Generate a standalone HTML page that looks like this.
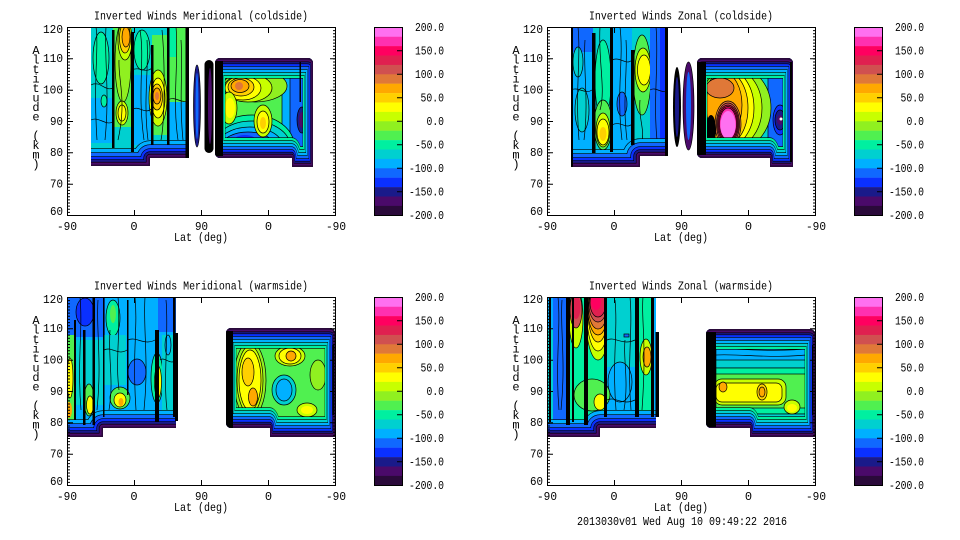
<!DOCTYPE html>
<html><head><meta charset="utf-8"><style>
html,body{margin:0;padding:0;background:#fff;}
svg{display:block;}
text{font-family:"Liberation Mono",monospace;font-size:12px;fill:#000;}
.k{stroke:#000;stroke-width:.7;}
.w{fill:none;stroke:#000;stroke-width:.7;}
</style></head><body>
<svg width="960" height="540" viewBox="0 0 960 540" xmlns="http://www.w3.org/2000/svg">
<defs>
<path id="p1" d="M221,58H307Q313,58 313,64V167H292V158H221Q215,158 215,152V64Q215,58 221,58Z"/>
<path id="p2" d="M703,58H787Q793,58 793,64V167H770V158H703Q697,158 697,152V64Q697,58 703,58Z"/>
<path id="p3" d="M232,328H329Q335,328 335,334V437H270V428H232Q226,428 226,422V334Q226,328 232,328Z"/>
<path id="p4" d="M712,329H809Q815,329 815,335V437H750V428H712Q706,428 706,422V335Q706,329 712,329Z"/>
<path id="q1" d="M178,58H350Q362,58 362,64V167H320V158H178Q166,158 166,152V64Q166,58 178,58Z"/>
<path id="q2" d="M661,58H829Q841,58 841,64V167H795V158H661Q649,158 649,152V64Q649,58 661,58Z"/>
<path id="q3" d="M183.5,328H377.5Q389.5,328 389.5,334V437H259.5V428H183.5Q171.5,428 171.5,422V334Q171.5,328 183.5,328Z"/>
<path id="q4" d="M663.5,329H857.5Q869.5,329 869.5,335V437H739.5V428H663.5Q651.5,428 651.5,422V335Q651.5,329 663.5,329Z"/>
<clipPath id="c1"><use href="#p1"/></clipPath>
<clipPath id="c2"><use href="#p2"/></clipPath>
<clipPath id="c3"><use href="#p3"/></clipPath>
<clipPath id="c4"><use href="#p4"/></clipPath>
<clipPath id="a1"><path d="M91,27H189V158H150V166H91Z"/></clipPath>
<clipPath id="a2"><path d="M571,27H668V156H640V167H571Z"/></clipPath>
<clipPath id="a3"><path d="M67,297H176V428H103V437H67Z"/></clipPath>
<clipPath id="a4"><path d="M547,297H656V428H600V437H547Z"/></clipPath>
</defs>

<!-- ================= TL DATA ================= -->
<g clip-path="url(#a1)">
<rect x="91" y="27" width="98" height="140" fill="#00d0d0"/>
<ellipse cx="101" cy="58" rx="8" ry="26" fill="#00f0a0" class="k"/>
<rect x="91" y="98" width="22" height="45" fill="#00b0ff"/>
<ellipse cx="104" cy="101" rx="3" ry="6" fill="#00f0a0" class="k"/>
<rect x="113" y="27" width="19" height="100" fill="#50f050"/>
<ellipse cx="123" cy="62" rx="8" ry="40" fill="#90f020" class="k"/>
<ellipse cx="125" cy="40" rx="7" ry="20" fill="#c8ff00" class="k"/>
<ellipse cx="125" cy="38" rx="5.5" ry="15" fill="#ffd000" class="k"/>
<ellipse cx="126" cy="37" rx="4" ry="10" fill="#ffa800" class="k"/>
<ellipse cx="122" cy="113" rx="6" ry="12" fill="#c8ff00" class="k"/>
<ellipse cx="122" cy="113" rx="4" ry="8" fill="#ffff00" class="k"/>
<rect x="132" y="75" width="20" height="70" fill="#00b0ff"/>
<ellipse cx="142" cy="50" rx="8" ry="20" fill="#00f0a0" class="k"/>
<rect x="152" y="35" width="16" height="100" fill="#50f050"/>
<ellipse cx="158" cy="98" rx="9" ry="28" fill="#c8ff00" class="k"/>
<ellipse cx="158" cy="98" rx="7" ry="20" fill="#ffff00" class="k"/>
<ellipse cx="157" cy="97" rx="5.5" ry="13" fill="#ffd000" class="k"/>
<ellipse cx="157" cy="96" rx="4" ry="8" fill="#ffa800" class="k"/>
<ellipse cx="157" cy="96" rx="2" ry="4" fill="#e07838"/>
<rect x="168" y="27" width="21" height="75" fill="#50f050"/>
<rect x="168" y="27" width="8" height="30" fill="#00f0a0"/>
<rect x="168" y="102" width="21" height="40" fill="#00b0ff"/>
<path class="w" d="M96,27C99,50 93,80 97,140M106,27C104,60 110,90 105,140M119,60C118,80 127,100 118,140M140,30C145,60 137,90 144,140M147,40C149,70 143,100 148,140M162,30C165,60 165,120 161,140M176,27C179,60 172,100 178,140M181,40C183,70 179,100 183,140M91,85C100,80 105,92 113,88M132,70C140,66 145,74 152,68M168,100C175,95 182,105 189,100M91,120C98,116 106,126 113,122M132,110C138,104 146,116 152,108"/>
<g fill="none" stroke-linejoin="round">
<path d="M80,166H150V158H200" stroke="#000" stroke-width="35.2"/>
<path d="M80,166H150V158H200" stroke="#00b0ff" stroke-width="34"/>
<path d="M80,166H150V158H200" stroke="#000" stroke-width="27.2"/>
<path d="M80,166H150V158H200" stroke="#1068ff" stroke-width="26"/>
<path d="M80,166H150V158H200" stroke="#000" stroke-width="19.2"/>
<path d="M80,166H150V158H200" stroke="#0a30ff" stroke-width="18"/>
<path d="M80,166H150V158H200" stroke="#000" stroke-width="13.2"/>
<path d="M80,166H150V158H200" stroke="#1a1a8a" stroke-width="12"/>
<path d="M80,166H150V158H200" stroke="#000" stroke-width="8.2"/>
<path d="M80,166H150V158H200" stroke="#4a0a6a" stroke-width="7"/>
<path d="M80,166H150V158H200" stroke="#2a0a3a" stroke-width="3"/>
</g>
<g fill="#000">
<rect x="112" y="30" width="2.5" height="118"/>
<rect x="131" y="32" width="3" height="120"/>
<rect x="151" y="45" width="2.5" height="100"/>
<rect x="167" y="27" width="2.5" height="118"/>
<rect x="185.5" y="27" width="3.5" height="131"/>
</g>
</g>
<ellipse cx="197" cy="106" rx="3.5" ry="41" fill="#1a1a8a" class="k"/>
<ellipse cx="197" cy="106" rx="1.5" ry="33" fill="#1068ff"/>
<rect x="204.5" y="60" width="9" height="93" rx="4.5" fill="#000"/>
<ellipse cx="210" cy="106" rx="2" ry="38" fill="#4a0a6a"/>

<g clip-path="url(#c1)">
<rect x="215" y="58" width="98" height="109" fill="#50f050"/>
<rect x="290" y="58" width="23" height="109" fill="#1068ff"/>
<rect x="282" y="75" width="8" height="70" fill="#00b0ff" class="k"/>
<ellipse cx="302" cy="120" rx="5" ry="13" fill="#1a1a8a" class="k"/>
<ellipse cx="302" cy="120" rx="3" ry="8" fill="#4a0a6a"/>
<ellipse cx="252" cy="145" rx="42" ry="30" fill="#00f0a0" class="k"/>
<ellipse cx="252" cy="146" rx="38" ry="25" fill="#00d0d0" class="k"/>
<ellipse cx="250" cy="147" rx="33" ry="20" fill="#00b0ff" class="k"/>
<ellipse cx="248" cy="146" rx="26" ry="14" fill="#1068ff" class="k"/>
<ellipse cx="245" cy="142" rx="12" ry="7" fill="#0a30ff"/>
<ellipse cx="255" cy="86" rx="32" ry="16" fill="#90f020" class="k"/>
<ellipse cx="248" cy="88" rx="24" ry="14" fill="#c8ff00" class="k"/>
<ellipse cx="243" cy="88" rx="18" ry="12" fill="#ffff00" class="k"/>
<ellipse cx="241" cy="87" rx="13" ry="9" fill="#ffd000" class="k"/>
<ellipse cx="240" cy="86" rx="9" ry="6.5" fill="#ffa800" class="k"/>
<ellipse cx="239" cy="86" rx="4" ry="4" fill="#e07838"/>
<ellipse cx="229" cy="108" rx="8" ry="16" fill="#c8ff00" class="k"/>
<ellipse cx="230" cy="108" rx="5" ry="10" fill="#ffff00"/>
<ellipse cx="263" cy="121" rx="9" ry="16" fill="#c8ff00" class="k"/>
<ellipse cx="263" cy="122" rx="6" ry="11" fill="#ffff00" class="k"/>
<ellipse cx="263" cy="123" rx="3" ry="6" fill="#ffd000"/>
<g fill="none" stroke-linejoin="round" transform="matrix(0.5,0,0,1,132,0)">
<use href="#q1" stroke="#000" stroke-width="41.2"/>
<use href="#q1" stroke="#00f0a0" stroke-width="40"/>
<use href="#q1" stroke="#000" stroke-width="35.2"/>
<use href="#q1" stroke="#00d0d0" stroke-width="34"/>
<use href="#q1" stroke="#000" stroke-width="29.2"/>
<use href="#q1" stroke="#00b0ff" stroke-width="28"/>
<use href="#q1" stroke="#000" stroke-width="23.2"/>
<use href="#q1" stroke="#1068ff" stroke-width="22"/>
<use href="#q1" stroke="#000" stroke-width="17.2"/>
<use href="#q1" stroke="#0a30ff" stroke-width="16"/>
<use href="#q1" stroke="#000" stroke-width="12.2"/>
<use href="#q1" stroke="#1a1a8a" stroke-width="11"/>
<use href="#q1" stroke="#000" stroke-width="8.2"/>
<use href="#q1" stroke="#4a0a6a" stroke-width="7"/>
<use href="#q1" stroke="#2a0a3a" stroke-width="3.5"/>
</g>
<rect x="215" y="61" width="8" height="95" fill="#000"/>
<rect x="299.5" y="62" width="1.5" height="40" fill="#000"/>
</g>

<!-- ================= TR DATA ================= -->
<g clip-path="url(#a2)">
<rect x="571" y="27" width="97" height="140" fill="#00b0ff"/>
<rect x="571" y="27" width="22" height="25" fill="#1068ff"/>
<ellipse cx="582" cy="110" rx="7" ry="22" fill="#00d0d0" class="k"/>
<ellipse cx="578" cy="62" rx="5" ry="15" fill="#00d0d0" class="k"/>
<rect x="593" y="27" width="19" height="125" fill="#00d0d0"/>
<ellipse cx="603" cy="80" rx="8" ry="40" fill="#00f0a0" class="k"/>
<ellipse cx="603" cy="125" rx="9" ry="25" fill="#50f050" class="k"/>
<ellipse cx="603" cy="130" rx="7" ry="17" fill="#c8ff00" class="k"/>
<ellipse cx="603" cy="132" rx="6" ry="13" fill="#ffff00" class="k"/>
<ellipse cx="603" cy="134" rx="3.5" ry="7" fill="#ffd000"/>
<ellipse cx="622" cy="104" rx="5" ry="12" fill="#1068ff" class="k"/>
<rect x="632" y="27" width="18" height="115" fill="#00d0d0"/>
<ellipse cx="642" cy="75" rx="9" ry="40" fill="#50f050" class="k"/>
<ellipse cx="643" cy="70" rx="8" ry="22" fill="#c8ff00" class="k"/>
<ellipse cx="644" cy="70" rx="6.5" ry="15" fill="#ffff00" class="k"/>
<rect x="650" y="27" width="18" height="130" fill="#1068ff"/>
<rect x="660" y="27" width="6" height="130" fill="#0a30ff"/>
<path class="w" d="M578,27C581,60 575,90 579,140M585,40C583,70 589,100 584,140M600,27C598,60 606,90 600,110M620,27C624,60 616,90 622,140M626,40C628,70 622,100 627,140M640,100C638,120 646,130 641,145M656,27C659,60 653,100 657,140M571,90C578,86 585,95 592,90M612,60C620,56 626,66 632,60M650,90C656,86 662,95 668,90M612,125C620,120 626,130 632,124"/>
<g fill="none" stroke-linejoin="round">
<path d="M560,167H640V156H680" stroke="#000" stroke-width="35.2"/>
<path d="M560,167H640V156H680" stroke="#00b0ff" stroke-width="34"/>
<path d="M560,167H640V156H680" stroke="#000" stroke-width="27.2"/>
<path d="M560,167H640V156H680" stroke="#1068ff" stroke-width="26"/>
<path d="M560,167H640V156H680" stroke="#000" stroke-width="19.2"/>
<path d="M560,167H640V156H680" stroke="#0a30ff" stroke-width="18"/>
<path d="M560,167H640V156H680" stroke="#000" stroke-width="13.2"/>
<path d="M560,167H640V156H680" stroke="#1a1a8a" stroke-width="12"/>
<path d="M560,167H640V156H680" stroke="#000" stroke-width="8.2"/>
<path d="M560,167H640V156H680" stroke="#4a0a6a" stroke-width="7"/>
<path d="M560,167H640V156H680" stroke="#2a0a3a" stroke-width="3"/>
</g>
<g fill="#000">
<rect x="571" y="27" width="2" height="140"/>
<rect x="592" y="33" width="3.5" height="120"/>
<rect x="610" y="27" width="3" height="125"/>
<rect x="631" y="50" width="3.5" height="95"/>
<rect x="665" y="27" width="3" height="130"/>
</g>
</g>
<ellipse cx="677" cy="107" rx="4" ry="40" fill="#000"/>
<ellipse cx="677" cy="107" rx="2" ry="30" fill="#1a1a8a"/>
<ellipse cx="688.5" cy="106" rx="5.5" ry="44" fill="#4a0a6a" class="k"/>
<ellipse cx="688.5" cy="106" rx="2.5" ry="34" fill="#1068ff"/>

<g clip-path="url(#c2)">
<rect x="697" y="58" width="96" height="109" fill="#50f050"/>
<rect x="765" y="58" width="28" height="109" fill="#1068ff"/>
<rect x="760" y="70" width="8" height="75" fill="#00d0d0" class="k"/>
<ellipse cx="780" cy="120" rx="7" ry="15" fill="#0a30ff" class="k"/>
<ellipse cx="780" cy="120" rx="5" ry="10" fill="#1a1a8a" class="k"/>
<ellipse cx="780" cy="120" rx="3" ry="5" fill="#4a0a6a"/>
<circle cx="781" cy="119" r="1.5" fill="#fff"/>
<ellipse cx="735" cy="108" rx="36" ry="42" fill="#90f020" class="k"/>
<ellipse cx="732" cy="108" rx="30" ry="40" fill="#c8ff00" class="k"/>
<ellipse cx="729" cy="108" rx="25" ry="38" fill="#ffff00" class="k"/>
<ellipse cx="727" cy="108" rx="21" ry="36" fill="#ffd000" class="k"/>
<ellipse cx="724" cy="105" rx="18" ry="32" fill="#ffa800" class="k"/>
<ellipse cx="720" cy="88" rx="14" ry="10" fill="#e07838" class="k"/>
<ellipse cx="728" cy="124" rx="13" ry="23" fill="#e07838" class="k"/>
<ellipse cx="728" cy="124" rx="11.5" ry="21" fill="#d05050" class="k"/>
<ellipse cx="728" cy="124" rx="10.5" ry="19" fill="#e02050" class="k"/>
<ellipse cx="728" cy="124" rx="9.5" ry="17.5" fill="#ff0060" class="k"/>
<ellipse cx="728" cy="124" rx="8.5" ry="16" fill="#ff30b0" class="k"/>
<ellipse cx="728" cy="125" rx="7.5" ry="14" fill="#ff70f0"/>
<ellipse cx="711" cy="130" rx="5" ry="15" fill="#000"/>
<g fill="none" stroke-linejoin="round" transform="matrix(0.5,0,0,1,372.5,0)">
<use href="#q2" stroke="#000" stroke-width="41.2"/>
<use href="#q2" stroke="#00f0a0" stroke-width="40"/>
<use href="#q2" stroke="#000" stroke-width="35.2"/>
<use href="#q2" stroke="#00d0d0" stroke-width="34"/>
<use href="#q2" stroke="#000" stroke-width="29.2"/>
<use href="#q2" stroke="#00b0ff" stroke-width="28"/>
<use href="#q2" stroke="#000" stroke-width="23.2"/>
<use href="#q2" stroke="#1068ff" stroke-width="22"/>
<use href="#q2" stroke="#000" stroke-width="17.2"/>
<use href="#q2" stroke="#0a30ff" stroke-width="16"/>
<use href="#q2" stroke="#000" stroke-width="12.2"/>
<use href="#q2" stroke="#1a1a8a" stroke-width="11"/>
<use href="#q2" stroke="#000" stroke-width="8.2"/>
<use href="#q2" stroke="#4a0a6a" stroke-width="7"/>
<use href="#q2" stroke="#2a0a3a" stroke-width="3.5"/>
</g>
<rect x="697" y="62" width="9" height="93" fill="#000"/>
<rect x="790" y="62" width="2" height="100" fill="#000"/>
</g>

<!-- ================= BL DATA ================= -->
<g clip-path="url(#a3)">
<rect x="67" y="297" width="109" height="140" fill="#00b0ff"/>
<rect x="67" y="297" width="38" height="40" fill="#1068ff"/>
<ellipse cx="85" cy="312" rx="9" ry="14" fill="#0a30ff" class="k"/>
<rect x="76" y="340" width="27" height="65" fill="#00d0d0"/>
<rect x="67" y="335" width="8" height="90" fill="#50f050"/>
<ellipse cx="70" cy="378" rx="3" ry="20" fill="#ffff00" class="k"/>
<ellipse cx="69" cy="410" rx="3" ry="8" fill="#ffa800"/>
<ellipse cx="89" cy="400" rx="5" ry="16" fill="#50f050" class="k"/>
<ellipse cx="90" cy="405" rx="3.5" ry="9" fill="#ffff00" class="k"/>
<ellipse cx="113" cy="318" rx="7" ry="18" fill="#00f0a0" class="k"/>
<ellipse cx="113" cy="314" rx="3" ry="9" fill="#50f050"/>
<rect x="104" y="335" width="22" height="50" fill="#00d0d0"/>
<ellipse cx="137" cy="372" rx="9" ry="13" fill="#1068ff" class="k"/>
<ellipse cx="120" cy="398" rx="10" ry="11" fill="#50f050" class="k"/>
<ellipse cx="120" cy="400" rx="6" ry="7" fill="#ffff00" class="k"/>
<ellipse cx="121" cy="402" rx="2.5" ry="4" fill="#ffa800"/>
<ellipse cx="157" cy="378" rx="6" ry="25" fill="#00f0a0" class="k"/>
<ellipse cx="158" cy="382" rx="3.5" ry="16" fill="#ffff00" class="k"/>
<rect x="162" y="335" width="14" height="90" fill="#00d0d0"/>
<rect x="158" y="297" width="18" height="35" fill="#1068ff"/>
<ellipse cx="168" cy="345" rx="3" ry="10" fill="#00b0ff" class="k"/>
<path class="w" d="M80,297C83,330 77,360 81,410M98,300C96,330 102,360 97,410M110,330C108,360 114,380 109,410M118,297C121,330 115,360 119,390M135,297C138,330 132,350 136,410M145,297C143,330 149,360 144,410M166,300C169,330 163,380 167,410M104,350C112,346 118,356 127,350M128,340C136,336 144,346 155,340M160,360C165,356 170,366 176,360"/>
<g fill="none" stroke-linejoin="round">
<path d="M60,437H103V428H185" stroke="#000" stroke-width="35.2"/>
<path d="M60,437H103V428H185" stroke="#00b0ff" stroke-width="34"/>
<path d="M60,437H103V428H185" stroke="#000" stroke-width="27.2"/>
<path d="M60,437H103V428H185" stroke="#1068ff" stroke-width="26"/>
<path d="M60,437H103V428H185" stroke="#000" stroke-width="19.2"/>
<path d="M60,437H103V428H185" stroke="#0a30ff" stroke-width="18"/>
<path d="M60,437H103V428H185" stroke="#000" stroke-width="13.2"/>
<path d="M60,437H103V428H185" stroke="#1a1a8a" stroke-width="12"/>
<path d="M60,437H103V428H185" stroke="#000" stroke-width="8.2"/>
<path d="M60,437H103V428H185" stroke="#4a0a6a" stroke-width="7"/>
<path d="M60,437H103V428H185" stroke="#2a0a3a" stroke-width="3"/>
</g>
<g fill="#000">
<rect x="74" y="320" width="2" height="100"/>
<rect x="83" y="330" width="2.5" height="95"/>
<rect x="92.5" y="297" width="2.5" height="128"/>
<rect x="103" y="297" width="1.5" height="120"/>
<rect x="127" y="300" width="1.5" height="95"/>
<rect x="155" y="330" width="4" height="92"/>
<rect x="173" y="297" width="2.5" height="120"/>
</g>
</g>
<rect x="175" y="333" width="3" height="88" fill="#000"/>

<g clip-path="url(#c3)">
<rect x="226" y="328" width="109" height="109" fill="#50f050"/>
<ellipse cx="250" cy="380" rx="16" ry="38" fill="#90f020" class="k"/>
<ellipse cx="250" cy="380" rx="13" ry="34" fill="#c8ff00" class="k"/>
<ellipse cx="250" cy="380" rx="11" ry="30" fill="#ffff00" class="k"/>
<ellipse cx="248" cy="372" rx="6" ry="14" fill="#ffd000" class="k"/>
<ellipse cx="253" cy="397" rx="4.5" ry="9" fill="#ffa800" class="k"/>
<ellipse cx="290" cy="356" rx="15" ry="10" fill="#c8ff00" class="k"/>
<ellipse cx="290" cy="356" rx="11" ry="8" fill="#ffff00" class="k"/>
<ellipse cx="291" cy="356" rx="5" ry="5" fill="#ffa800" class="k"/>
<ellipse cx="284" cy="390" rx="12" ry="15" fill="#00d0d0" class="k"/>
<ellipse cx="284" cy="390" rx="8" ry="11" fill="#00b0ff" class="k"/>
<ellipse cx="307" cy="410" rx="10" ry="7" fill="#c8ff00" class="k"/>
<ellipse cx="307" cy="410" rx="6" ry="4" fill="#ffff00"/>
<ellipse cx="318" cy="375" rx="8" ry="15" fill="#90f020" class="k"/>
<g fill="none" stroke-linejoin="round" transform="matrix(0.5,0,0,1,140.25,0)">
<use href="#q3" stroke="#000" stroke-width="41.2"/>
<use href="#q3" stroke="#00f0a0" stroke-width="40"/>
<use href="#q3" stroke="#000" stroke-width="35.2"/>
<use href="#q3" stroke="#00d0d0" stroke-width="34"/>
<use href="#q3" stroke="#000" stroke-width="29.2"/>
<use href="#q3" stroke="#00b0ff" stroke-width="28"/>
<use href="#q3" stroke="#000" stroke-width="23.2"/>
<use href="#q3" stroke="#1068ff" stroke-width="22"/>
<use href="#q3" stroke="#000" stroke-width="17.2"/>
<use href="#q3" stroke="#0a30ff" stroke-width="16"/>
<use href="#q3" stroke="#000" stroke-width="12.2"/>
<use href="#q3" stroke="#1a1a8a" stroke-width="11"/>
<use href="#q3" stroke="#000" stroke-width="8.2"/>
<use href="#q3" stroke="#4a0a6a" stroke-width="7"/>
<use href="#q3" stroke="#2a0a3a" stroke-width="3.5"/>
</g>
<rect x="226" y="331" width="7" height="97" fill="#000"/>
<rect x="332.5" y="345" width="1.5" height="70" fill="#000"/>
</g>

<!-- ================= BR DATA ================= -->
<g clip-path="url(#a4)">
<rect x="547" y="297" width="109" height="140" fill="#00b0ff"/>
<rect x="547" y="330" width="6" height="90" fill="#00d0d0"/>
<rect x="553" y="297" width="14" height="125" fill="#1068ff"/>
<rect x="567" y="297" width="40" height="130" fill="#00f0a0"/>
<ellipse cx="576" cy="318" rx="7" ry="30" fill="#c8ff00" class="k"/>
<ellipse cx="576" cy="310" rx="6" ry="18" fill="#d05050" class="k"/>
<ellipse cx="576" cy="307" rx="4.5" ry="12" fill="#e02050"/>
<ellipse cx="598" cy="318" rx="12" ry="42" fill="#c8ff00" class="k"/>
<ellipse cx="598" cy="315" rx="11" ry="36" fill="#ffff00" class="k"/>
<ellipse cx="598" cy="312" rx="10" ry="30" fill="#ffd000" class="k"/>
<ellipse cx="598" cy="310" rx="10" ry="25" fill="#ffa800" class="k"/>
<ellipse cx="598" cy="308" rx="9.5" ry="21" fill="#e07838" class="k"/>
<ellipse cx="598" cy="305" rx="9" ry="17" fill="#d05050" class="k"/>
<ellipse cx="598" cy="303" rx="8" ry="14" fill="#e02050" class="k"/>
<ellipse cx="596" cy="302" rx="5" ry="8" fill="#ff0060"/>
<rect x="607" y="297" width="28" height="70" fill="#00d0d0"/>
<ellipse cx="620" cy="382" rx="12" ry="20" fill="#00b0ff" class="k"/>
<rect x="624" y="334" width="5" height="3" fill="#1068ff" class="k"/>
<rect x="635" y="297" width="17" height="125" fill="#00f0a0"/>
<ellipse cx="646" cy="357" rx="6" ry="18" fill="#c8ff00" class="k"/>
<ellipse cx="647" cy="357" rx="4" ry="10" fill="#ffa800" class="k"/>
<ellipse cx="592" cy="395" rx="18" ry="16" fill="#50f050" class="k"/>
<ellipse cx="600" cy="402" rx="6" ry="8" fill="#ffff00" class="k"/>
<path class="w" d="M558,297C561,330 555,360 559,410M562,300C560,330 566,360 561,410M615,300C618,330 612,360 616,410M625,340C623,360 629,380 624,410M630,297C633,330 627,360 631,410M643,297C641,320 647,340 642,410M607,340C615,336 622,346 635,340M607,400C615,396 622,406 635,400"/>
<g fill="none" stroke-linejoin="round">
<path d="M540,437H600V428H665" stroke="#000" stroke-width="35.2"/>
<path d="M540,437H600V428H665" stroke="#00b0ff" stroke-width="34"/>
<path d="M540,437H600V428H665" stroke="#000" stroke-width="27.2"/>
<path d="M540,437H600V428H665" stroke="#1068ff" stroke-width="26"/>
<path d="M540,437H600V428H665" stroke="#000" stroke-width="19.2"/>
<path d="M540,437H600V428H665" stroke="#0a30ff" stroke-width="18"/>
<path d="M540,437H600V428H665" stroke="#000" stroke-width="13.2"/>
<path d="M540,437H600V428H665" stroke="#1a1a8a" stroke-width="12"/>
<path d="M540,437H600V428H665" stroke="#000" stroke-width="8.2"/>
<path d="M540,437H600V428H665" stroke="#4a0a6a" stroke-width="7"/>
<path d="M540,437H600V428H665" stroke="#2a0a3a" stroke-width="3"/>
</g>
<g fill="#000">
<rect x="549" y="297" width="2" height="125"/>
<rect x="566" y="297" width="4" height="128"/>
<rect x="572" y="297" width="2" height="125"/>
<rect x="584" y="297" width="4" height="128"/>
<rect x="604" y="297" width="3" height="120"/>
<rect x="635" y="297" width="4" height="120"/>
<rect x="651" y="297" width="3" height="120"/>
</g>
</g>
<rect x="655.5" y="332" width="3.5" height="85" fill="#000"/>

<g clip-path="url(#c4)">
<rect x="706" y="329" width="109" height="108" fill="#50f050"/>
<rect x="706" y="340" width="109" height="20" fill="#00b0ff"/>
<rect x="706" y="360" width="109" height="8" fill="#00d0d0" class="k"/>
<rect x="706" y="368" width="109" height="6" fill="#00f0a0" class="k"/>
<rect x="706" y="408" width="109" height="6" fill="#00f0a0" class="k"/>
<rect x="706" y="414" width="109" height="8" fill="#00d0d0" class="k"/>
<rect x="714" y="379" width="72" height="26" rx="8" fill="#c8ff00" class="k"/>
<rect x="716" y="383" width="66" height="19" rx="6" fill="#ffff00" class="k"/>
<ellipse cx="723" cy="387" rx="4" ry="5" fill="#ffa800" class="k"/>
<ellipse cx="762" cy="392" rx="5" ry="8" fill="#ffd000" class="k"/>
<ellipse cx="762" cy="392" rx="3" ry="5" fill="#ffa800" class="k"/>
<ellipse cx="792" cy="407" rx="8" ry="7" fill="#c8ff00" class="k"/>
<ellipse cx="792" cy="408" rx="5" ry="4" fill="#ffff00"/>
<path class="w" d="M706,350C730,346 760,354 815,348M706,356C730,352 770,360 815,354"/>
<g fill="none" stroke-linejoin="round" transform="matrix(0.5,0,0,1,380.25,0)">
<use href="#q4" stroke="#000" stroke-width="41.2"/>
<use href="#q4" stroke="#00f0a0" stroke-width="40"/>
<use href="#q4" stroke="#000" stroke-width="35.2"/>
<use href="#q4" stroke="#00d0d0" stroke-width="34"/>
<use href="#q4" stroke="#000" stroke-width="29.2"/>
<use href="#q4" stroke="#00b0ff" stroke-width="28"/>
<use href="#q4" stroke="#000" stroke-width="23.2"/>
<use href="#q4" stroke="#1068ff" stroke-width="22"/>
<use href="#q4" stroke="#000" stroke-width="17.2"/>
<use href="#q4" stroke="#0a30ff" stroke-width="16"/>
<use href="#q4" stroke="#000" stroke-width="12.2"/>
<use href="#q4" stroke="#1a1a8a" stroke-width="11"/>
<use href="#q4" stroke="#000" stroke-width="8.2"/>
<use href="#q4" stroke="#4a0a6a" stroke-width="7"/>
<use href="#q4" stroke="#2a0a3a" stroke-width="3.5"/>
</g>
<rect x="706" y="332" width="10" height="95" fill="#000"/>
<rect x="812" y="345" width="1.5" height="70" fill="#000"/>
</g>

<!-- ================= FRAMES ================= -->
<g>
<rect x="67.5" y="27.5" width="268" height="188" fill="none" stroke="#000"/>
<path d="M68.5,27V216M334.5,27V216" stroke="#000" stroke-width="3" stroke-dasharray="1 2.1333" fill="none"/>
<path d="M67,27.5h6M67,58.8h6M67,90.2h6M67,121.5h6M67,152.8h6M67,184.2h6M67,215.5h6M336,27.5h-6M336,58.8h-6M336,90.2h-6M336,121.5h-6M336,152.8h-6M336,184.2h-6M336,215.5h-6M134.5,215v-5M134.5,28v5M201.5,215v-5M201.5,28v5M268.5,215v-5M268.5,28v5" stroke="#000" fill="none"/>
<text x="201" y="19.5" text-anchor="middle" textLength="214" lengthAdjust="spacingAndGlyphs">Inverted Winds Meridional (coldside)</text>
<g text-anchor="end">
<text x="63" y="33" textLength="20" lengthAdjust="spacingAndGlyphs">120</text>
<text x="63" y="62" textLength="20" lengthAdjust="spacingAndGlyphs">110</text>
<text x="63" y="93.5" textLength="20" lengthAdjust="spacingAndGlyphs">100</text>
<text x="63" y="125" textLength="13" lengthAdjust="spacingAndGlyphs">90</text>
<text x="63" y="156" textLength="13" lengthAdjust="spacingAndGlyphs">80</text>
<text x="63" y="187.5" textLength="13" lengthAdjust="spacingAndGlyphs">70</text>
<text x="63" y="215" textLength="13" lengthAdjust="spacingAndGlyphs">60</text>
</g>
<g text-anchor="middle">
<text x="67" y="230" textLength="20" lengthAdjust="spacingAndGlyphs">-90</text>
<text x="134" y="230">0</text>
<text x="201.5" y="230" textLength="13" lengthAdjust="spacingAndGlyphs">90</text>
<text x="268.5" y="230">0</text>
<text x="336" y="230" textLength="20" lengthAdjust="spacingAndGlyphs">-90</text>
<text x="201" y="241" textLength="54" lengthAdjust="spacingAndGlyphs">Lat (deg)</text>
<text x="36" y="54">A</text><text x="36" y="63.5">l</text><text x="36" y="73">t</text><text x="36" y="82.5">i</text><text x="36" y="92">t</text><text x="36" y="101.5">u</text><text x="36" y="111">d</text><text x="36" y="120.5">e</text><text x="36" y="139.5">(</text><text x="36" y="149">k</text><text x="36" y="158.5">m</text><text x="36" y="168">)</text>
</g>
<rect x="374.5" y="27.3" width="28" height="9.6" fill="#ff70f0"/>
<rect x="374.5" y="36.7" width="28" height="9.6" fill="#ff30b0"/>
<rect x="374.5" y="46.1" width="28" height="9.6" fill="#ff0060"/>
<rect x="374.5" y="55.5" width="28" height="9.6" fill="#e02050"/>
<rect x="374.5" y="64.9" width="28" height="9.6" fill="#d05050"/>
<rect x="374.5" y="74.3" width="28" height="9.6" fill="#e07838"/>
<rect x="374.5" y="83.7" width="28" height="9.6" fill="#ffa800"/>
<rect x="374.5" y="93.1" width="28" height="9.6" fill="#ffd000"/>
<rect x="374.5" y="102.5" width="28" height="9.6" fill="#ffff00"/>
<rect x="374.5" y="111.9" width="28" height="9.6" fill="#c8ff00"/>
<rect x="374.5" y="121.3" width="28" height="9.6" fill="#90f020"/>
<rect x="374.5" y="130.7" width="28" height="9.6" fill="#50f050"/>
<rect x="374.5" y="140.1" width="28" height="9.6" fill="#00f0a0"/>
<rect x="374.5" y="149.5" width="28" height="9.6" fill="#00d0d0"/>
<rect x="374.5" y="158.9" width="28" height="9.6" fill="#00b0ff"/>
<rect x="374.5" y="168.3" width="28" height="9.6" fill="#1068ff"/>
<rect x="374.5" y="177.7" width="28" height="9.6" fill="#0a30ff"/>
<rect x="374.5" y="187.1" width="28" height="9.6" fill="#1a1a8a"/>
<rect x="374.5" y="196.5" width="28" height="9.6" fill="#4a0a6a"/>
<rect x="374.5" y="205.9" width="28" height="9.4" fill="#2a0a3a"/>
<rect x="374.5" y="27.5" width="28" height="188" fill="none" stroke="#000"/>
<path d="M397,50.8h5.5M397,74.3h5.5M397,97.8h5.5M397,121.3h5.5M397,144.8h5.5M397,168.3h5.5M397,191.8h5.5" stroke="#000"/>
<g text-anchor="end">
<text x="444" y="31" textLength="29" lengthAdjust="spacingAndGlyphs">200.0</text>
<text x="444" y="54.5" textLength="29" lengthAdjust="spacingAndGlyphs">150.0</text>
<text x="444" y="78" textLength="29" lengthAdjust="spacingAndGlyphs">100.0</text>
<text x="444" y="101.5" textLength="23.5" lengthAdjust="spacingAndGlyphs">50.0</text>
<text x="444" y="125" textLength="17.5" lengthAdjust="spacingAndGlyphs">0.0</text>
<text x="444" y="148.5" textLength="29" lengthAdjust="spacingAndGlyphs">-50.0</text>
<text x="444" y="172" textLength="35" lengthAdjust="spacingAndGlyphs">-100.0</text>
<text x="444" y="195.5" textLength="35" lengthAdjust="spacingAndGlyphs">-150.0</text>
<text x="444" y="219" textLength="35" lengthAdjust="spacingAndGlyphs">-200.0</text>
</g>
</g>

<g transform="translate(480,0)">
<rect x="67.5" y="27.5" width="268" height="188" fill="none" stroke="#000"/>
<path d="M68.5,27V216M334.5,27V216" stroke="#000" stroke-width="3" stroke-dasharray="1 2.1333" fill="none"/>
<path d="M67,27.5h6M67,58.8h6M67,90.2h6M67,121.5h6M67,152.8h6M67,184.2h6M67,215.5h6M336,27.5h-6M336,58.8h-6M336,90.2h-6M336,121.5h-6M336,152.8h-6M336,184.2h-6M336,215.5h-6M134.5,215v-5M134.5,28v5M201.5,215v-5M201.5,28v5M268.5,215v-5M268.5,28v5" stroke="#000" fill="none"/>
<text x="201" y="19.5" text-anchor="middle" textLength="184" lengthAdjust="spacingAndGlyphs">Inverted Winds Zonal (coldside)</text>
<g text-anchor="end">
<text x="63" y="33" textLength="20" lengthAdjust="spacingAndGlyphs">120</text>
<text x="63" y="62" textLength="20" lengthAdjust="spacingAndGlyphs">110</text>
<text x="63" y="93.5" textLength="20" lengthAdjust="spacingAndGlyphs">100</text>
<text x="63" y="125" textLength="13" lengthAdjust="spacingAndGlyphs">90</text>
<text x="63" y="156" textLength="13" lengthAdjust="spacingAndGlyphs">80</text>
<text x="63" y="187.5" textLength="13" lengthAdjust="spacingAndGlyphs">70</text>
<text x="63" y="215" textLength="13" lengthAdjust="spacingAndGlyphs">60</text>
</g>
<g text-anchor="middle">
<text x="67" y="230" textLength="20" lengthAdjust="spacingAndGlyphs">-90</text>
<text x="134" y="230">0</text>
<text x="201.5" y="230" textLength="13" lengthAdjust="spacingAndGlyphs">90</text>
<text x="268.5" y="230">0</text>
<text x="336" y="230" textLength="20" lengthAdjust="spacingAndGlyphs">-90</text>
<text x="201" y="241" textLength="54" lengthAdjust="spacingAndGlyphs">Lat (deg)</text>
<text x="36" y="54">A</text><text x="36" y="63.5">l</text><text x="36" y="73">t</text><text x="36" y="82.5">i</text><text x="36" y="92">t</text><text x="36" y="101.5">u</text><text x="36" y="111">d</text><text x="36" y="120.5">e</text><text x="36" y="139.5">(</text><text x="36" y="149">k</text><text x="36" y="158.5">m</text><text x="36" y="168">)</text>
</g>
<rect x="374.5" y="27.3" width="28" height="9.6" fill="#ff70f0"/>
<rect x="374.5" y="36.7" width="28" height="9.6" fill="#ff30b0"/>
<rect x="374.5" y="46.1" width="28" height="9.6" fill="#ff0060"/>
<rect x="374.5" y="55.5" width="28" height="9.6" fill="#e02050"/>
<rect x="374.5" y="64.9" width="28" height="9.6" fill="#d05050"/>
<rect x="374.5" y="74.3" width="28" height="9.6" fill="#e07838"/>
<rect x="374.5" y="83.7" width="28" height="9.6" fill="#ffa800"/>
<rect x="374.5" y="93.1" width="28" height="9.6" fill="#ffd000"/>
<rect x="374.5" y="102.5" width="28" height="9.6" fill="#ffff00"/>
<rect x="374.5" y="111.9" width="28" height="9.6" fill="#c8ff00"/>
<rect x="374.5" y="121.3" width="28" height="9.6" fill="#90f020"/>
<rect x="374.5" y="130.7" width="28" height="9.6" fill="#50f050"/>
<rect x="374.5" y="140.1" width="28" height="9.6" fill="#00f0a0"/>
<rect x="374.5" y="149.5" width="28" height="9.6" fill="#00d0d0"/>
<rect x="374.5" y="158.9" width="28" height="9.6" fill="#00b0ff"/>
<rect x="374.5" y="168.3" width="28" height="9.6" fill="#1068ff"/>
<rect x="374.5" y="177.7" width="28" height="9.6" fill="#0a30ff"/>
<rect x="374.5" y="187.1" width="28" height="9.6" fill="#1a1a8a"/>
<rect x="374.5" y="196.5" width="28" height="9.6" fill="#4a0a6a"/>
<rect x="374.5" y="205.9" width="28" height="9.4" fill="#2a0a3a"/>
<rect x="374.5" y="27.5" width="28" height="188" fill="none" stroke="#000"/>
<path d="M397,50.8h5.5M397,74.3h5.5M397,97.8h5.5M397,121.3h5.5M397,144.8h5.5M397,168.3h5.5M397,191.8h5.5" stroke="#000"/>
<g text-anchor="end">
<text x="444" y="31" textLength="29" lengthAdjust="spacingAndGlyphs">200.0</text>
<text x="444" y="54.5" textLength="29" lengthAdjust="spacingAndGlyphs">150.0</text>
<text x="444" y="78" textLength="29" lengthAdjust="spacingAndGlyphs">100.0</text>
<text x="444" y="101.5" textLength="23.5" lengthAdjust="spacingAndGlyphs">50.0</text>
<text x="444" y="125" textLength="17.5" lengthAdjust="spacingAndGlyphs">0.0</text>
<text x="444" y="148.5" textLength="29" lengthAdjust="spacingAndGlyphs">-50.0</text>
<text x="444" y="172" textLength="35" lengthAdjust="spacingAndGlyphs">-100.0</text>
<text x="444" y="195.5" textLength="35" lengthAdjust="spacingAndGlyphs">-150.0</text>
<text x="444" y="219" textLength="35" lengthAdjust="spacingAndGlyphs">-200.0</text>
</g>
</g>

<g transform="translate(0,270)">
<rect x="67.5" y="27.5" width="268" height="188" fill="none" stroke="#000"/>
<path d="M68.5,27V216M334.5,27V216" stroke="#000" stroke-width="3" stroke-dasharray="1 2.1333" fill="none"/>
<path d="M67,27.5h6M67,58.8h6M67,90.2h6M67,121.5h6M67,152.8h6M67,184.2h6M67,215.5h6M336,27.5h-6M336,58.8h-6M336,90.2h-6M336,121.5h-6M336,152.8h-6M336,184.2h-6M336,215.5h-6M134.5,215v-5M134.5,28v5M201.5,215v-5M201.5,28v5M268.5,215v-5M268.5,28v5" stroke="#000" fill="none"/>
<text x="201" y="19.5" text-anchor="middle" textLength="214" lengthAdjust="spacingAndGlyphs">Inverted Winds Meridional (warmside)</text>
<g text-anchor="end">
<text x="63" y="33" textLength="20" lengthAdjust="spacingAndGlyphs">120</text>
<text x="63" y="62" textLength="20" lengthAdjust="spacingAndGlyphs">110</text>
<text x="63" y="93.5" textLength="20" lengthAdjust="spacingAndGlyphs">100</text>
<text x="63" y="125" textLength="13" lengthAdjust="spacingAndGlyphs">90</text>
<text x="63" y="156" textLength="13" lengthAdjust="spacingAndGlyphs">80</text>
<text x="63" y="187.5" textLength="13" lengthAdjust="spacingAndGlyphs">70</text>
<text x="63" y="215" textLength="13" lengthAdjust="spacingAndGlyphs">60</text>
</g>
<g text-anchor="middle">
<text x="67" y="230" textLength="20" lengthAdjust="spacingAndGlyphs">-90</text>
<text x="134" y="230">0</text>
<text x="201.5" y="230" textLength="13" lengthAdjust="spacingAndGlyphs">90</text>
<text x="268.5" y="230">0</text>
<text x="336" y="230" textLength="20" lengthAdjust="spacingAndGlyphs">-90</text>
<text x="201" y="241" textLength="54" lengthAdjust="spacingAndGlyphs">Lat (deg)</text>
<text x="36" y="54">A</text><text x="36" y="63.5">l</text><text x="36" y="73">t</text><text x="36" y="82.5">i</text><text x="36" y="92">t</text><text x="36" y="101.5">u</text><text x="36" y="111">d</text><text x="36" y="120.5">e</text><text x="36" y="139.5">(</text><text x="36" y="149">k</text><text x="36" y="158.5">m</text><text x="36" y="168">)</text>
</g>
<rect x="374.5" y="27.3" width="28" height="9.6" fill="#ff70f0"/>
<rect x="374.5" y="36.7" width="28" height="9.6" fill="#ff30b0"/>
<rect x="374.5" y="46.1" width="28" height="9.6" fill="#ff0060"/>
<rect x="374.5" y="55.5" width="28" height="9.6" fill="#e02050"/>
<rect x="374.5" y="64.9" width="28" height="9.6" fill="#d05050"/>
<rect x="374.5" y="74.3" width="28" height="9.6" fill="#e07838"/>
<rect x="374.5" y="83.7" width="28" height="9.6" fill="#ffa800"/>
<rect x="374.5" y="93.1" width="28" height="9.6" fill="#ffd000"/>
<rect x="374.5" y="102.5" width="28" height="9.6" fill="#ffff00"/>
<rect x="374.5" y="111.9" width="28" height="9.6" fill="#c8ff00"/>
<rect x="374.5" y="121.3" width="28" height="9.6" fill="#90f020"/>
<rect x="374.5" y="130.7" width="28" height="9.6" fill="#50f050"/>
<rect x="374.5" y="140.1" width="28" height="9.6" fill="#00f0a0"/>
<rect x="374.5" y="149.5" width="28" height="9.6" fill="#00d0d0"/>
<rect x="374.5" y="158.9" width="28" height="9.6" fill="#00b0ff"/>
<rect x="374.5" y="168.3" width="28" height="9.6" fill="#1068ff"/>
<rect x="374.5" y="177.7" width="28" height="9.6" fill="#0a30ff"/>
<rect x="374.5" y="187.1" width="28" height="9.6" fill="#1a1a8a"/>
<rect x="374.5" y="196.5" width="28" height="9.6" fill="#4a0a6a"/>
<rect x="374.5" y="205.9" width="28" height="9.4" fill="#2a0a3a"/>
<rect x="374.5" y="27.5" width="28" height="188" fill="none" stroke="#000"/>
<path d="M397,50.8h5.5M397,74.3h5.5M397,97.8h5.5M397,121.3h5.5M397,144.8h5.5M397,168.3h5.5M397,191.8h5.5" stroke="#000"/>
<g text-anchor="end">
<text x="444" y="31" textLength="29" lengthAdjust="spacingAndGlyphs">200.0</text>
<text x="444" y="54.5" textLength="29" lengthAdjust="spacingAndGlyphs">150.0</text>
<text x="444" y="78" textLength="29" lengthAdjust="spacingAndGlyphs">100.0</text>
<text x="444" y="101.5" textLength="23.5" lengthAdjust="spacingAndGlyphs">50.0</text>
<text x="444" y="125" textLength="17.5" lengthAdjust="spacingAndGlyphs">0.0</text>
<text x="444" y="148.5" textLength="29" lengthAdjust="spacingAndGlyphs">-50.0</text>
<text x="444" y="172" textLength="35" lengthAdjust="spacingAndGlyphs">-100.0</text>
<text x="444" y="195.5" textLength="35" lengthAdjust="spacingAndGlyphs">-150.0</text>
<text x="444" y="219" textLength="35" lengthAdjust="spacingAndGlyphs">-200.0</text>
</g>
</g>

<g transform="translate(480,270)">
<rect x="67.5" y="27.5" width="268" height="188" fill="none" stroke="#000"/>
<path d="M68.5,27V216M334.5,27V216" stroke="#000" stroke-width="3" stroke-dasharray="1 2.1333" fill="none"/>
<path d="M67,27.5h6M67,58.8h6M67,90.2h6M67,121.5h6M67,152.8h6M67,184.2h6M67,215.5h6M336,27.5h-6M336,58.8h-6M336,90.2h-6M336,121.5h-6M336,152.8h-6M336,184.2h-6M336,215.5h-6M134.5,215v-5M134.5,28v5M201.5,215v-5M201.5,28v5M268.5,215v-5M268.5,28v5" stroke="#000" fill="none"/>
<text x="201" y="19.5" text-anchor="middle" textLength="184" lengthAdjust="spacingAndGlyphs">Inverted Winds Zonal (warmside)</text>
<g text-anchor="end">
<text x="63" y="33" textLength="20" lengthAdjust="spacingAndGlyphs">120</text>
<text x="63" y="62" textLength="20" lengthAdjust="spacingAndGlyphs">110</text>
<text x="63" y="93.5" textLength="20" lengthAdjust="spacingAndGlyphs">100</text>
<text x="63" y="125" textLength="13" lengthAdjust="spacingAndGlyphs">90</text>
<text x="63" y="156" textLength="13" lengthAdjust="spacingAndGlyphs">80</text>
<text x="63" y="187.5" textLength="13" lengthAdjust="spacingAndGlyphs">70</text>
<text x="63" y="215" textLength="13" lengthAdjust="spacingAndGlyphs">60</text>
</g>
<g text-anchor="middle">
<text x="67" y="230" textLength="20" lengthAdjust="spacingAndGlyphs">-90</text>
<text x="134" y="230">0</text>
<text x="201.5" y="230" textLength="13" lengthAdjust="spacingAndGlyphs">90</text>
<text x="268.5" y="230">0</text>
<text x="336" y="230" textLength="20" lengthAdjust="spacingAndGlyphs">-90</text>
<text x="201" y="241" textLength="54" lengthAdjust="spacingAndGlyphs">Lat (deg)</text>
<text x="202" y="255" textLength="210" lengthAdjust="spacingAndGlyphs">2013030v01 Wed Aug 10 09:49:22 2016</text>
<text x="36" y="54">A</text><text x="36" y="63.5">l</text><text x="36" y="73">t</text><text x="36" y="82.5">i</text><text x="36" y="92">t</text><text x="36" y="101.5">u</text><text x="36" y="111">d</text><text x="36" y="120.5">e</text><text x="36" y="139.5">(</text><text x="36" y="149">k</text><text x="36" y="158.5">m</text><text x="36" y="168">)</text>
</g>
<rect x="374.5" y="27.3" width="28" height="9.6" fill="#ff70f0"/>
<rect x="374.5" y="36.7" width="28" height="9.6" fill="#ff30b0"/>
<rect x="374.5" y="46.1" width="28" height="9.6" fill="#ff0060"/>
<rect x="374.5" y="55.5" width="28" height="9.6" fill="#e02050"/>
<rect x="374.5" y="64.9" width="28" height="9.6" fill="#d05050"/>
<rect x="374.5" y="74.3" width="28" height="9.6" fill="#e07838"/>
<rect x="374.5" y="83.7" width="28" height="9.6" fill="#ffa800"/>
<rect x="374.5" y="93.1" width="28" height="9.6" fill="#ffd000"/>
<rect x="374.5" y="102.5" width="28" height="9.6" fill="#ffff00"/>
<rect x="374.5" y="111.9" width="28" height="9.6" fill="#c8ff00"/>
<rect x="374.5" y="121.3" width="28" height="9.6" fill="#90f020"/>
<rect x="374.5" y="130.7" width="28" height="9.6" fill="#50f050"/>
<rect x="374.5" y="140.1" width="28" height="9.6" fill="#00f0a0"/>
<rect x="374.5" y="149.5" width="28" height="9.6" fill="#00d0d0"/>
<rect x="374.5" y="158.9" width="28" height="9.6" fill="#00b0ff"/>
<rect x="374.5" y="168.3" width="28" height="9.6" fill="#1068ff"/>
<rect x="374.5" y="177.7" width="28" height="9.6" fill="#0a30ff"/>
<rect x="374.5" y="187.1" width="28" height="9.6" fill="#1a1a8a"/>
<rect x="374.5" y="196.5" width="28" height="9.6" fill="#4a0a6a"/>
<rect x="374.5" y="205.9" width="28" height="9.4" fill="#2a0a3a"/>
<rect x="374.5" y="27.5" width="28" height="188" fill="none" stroke="#000"/>
<path d="M397,50.8h5.5M397,74.3h5.5M397,97.8h5.5M397,121.3h5.5M397,144.8h5.5M397,168.3h5.5M397,191.8h5.5" stroke="#000"/>
<g text-anchor="end">
<text x="444" y="31" textLength="29" lengthAdjust="spacingAndGlyphs">200.0</text>
<text x="444" y="54.5" textLength="29" lengthAdjust="spacingAndGlyphs">150.0</text>
<text x="444" y="78" textLength="29" lengthAdjust="spacingAndGlyphs">100.0</text>
<text x="444" y="101.5" textLength="23.5" lengthAdjust="spacingAndGlyphs">50.0</text>
<text x="444" y="125" textLength="17.5" lengthAdjust="spacingAndGlyphs">0.0</text>
<text x="444" y="148.5" textLength="29" lengthAdjust="spacingAndGlyphs">-50.0</text>
<text x="444" y="172" textLength="35" lengthAdjust="spacingAndGlyphs">-100.0</text>
<text x="444" y="195.5" textLength="35" lengthAdjust="spacingAndGlyphs">-150.0</text>
<text x="444" y="219" textLength="35" lengthAdjust="spacingAndGlyphs">-200.0</text>
</g>
</g>
</svg>
</body></html>
